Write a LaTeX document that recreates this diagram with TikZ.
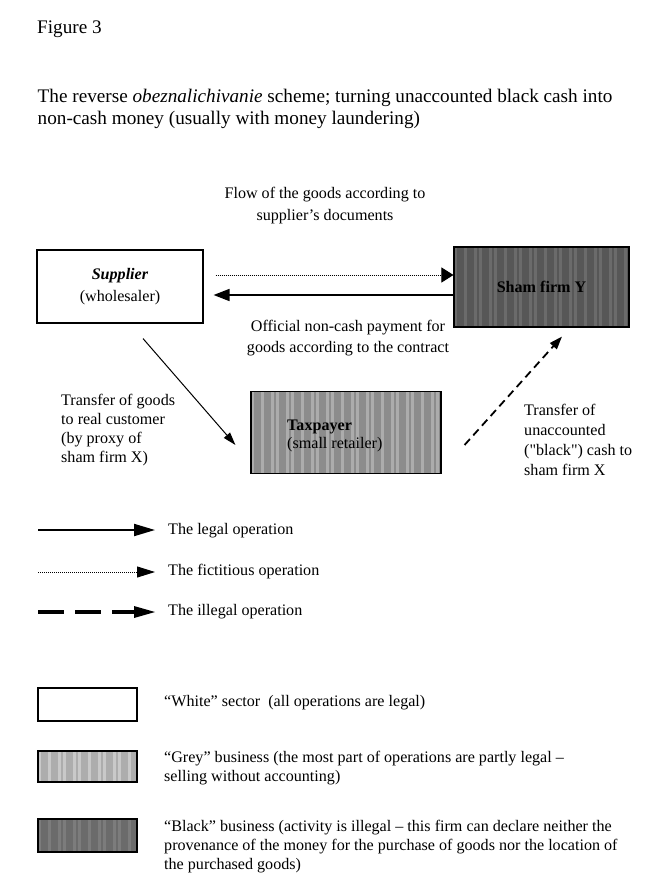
\documentclass[tikz,border=0pt]{standalone}
\usepackage{fontspec}
\setmainfont{Liberation Serif}
\usetikzlibrary{arrows.meta,calc}
\tikzset{
  lbl/.style={inner sep=0pt, align=left, font=\fontsize{16.1}{19}\selectfont},
  ttl/.style={inner sep=0pt, align=left, font=\fontsize{19.2}{22}\selectfont},
  firm/.style={draw, line width=1.1pt, inner sep=0pt, align=center, font=\fontsize{16.1}{22}\selectfont},
  stripes/.style 2 args={path picture={\foreach \i [evaluate=\i as \sx using {\i*8+mod(\i*7,5)}, evaluate=\i as \sy using {\i*8+mod(\i*7,5)+#1}] in {0,...,24}{\fill[white,opacity=#2] ([xshift=\sx pt]path picture bounding box.south west) rectangle ([xshift=\sy pt]path picture bounding box.north west);}}},
  whitefirm/.style={firm, fill=white},
  greyfirm/.style={firm, fill=black!45, stripes={3}{0.28}},
  blackfirm/.style={firm, fill=black!66, stripes={2.5}{0.12}},
  legal/.style={line width=1.7pt, -{Triangle[length=16pt,width=12pt]}},
  legalthin/.style={line width=1pt, -{Triangle[length=13pt,width=8pt]}},
  fict/.style={line width=1pt, dash pattern=on 1pt off 1pt, -{Triangle[length=12pt,width=15pt]}},
  illegal/.style={line width=1.8pt, dash pattern=on 8pt off 5pt, -{Triangle[length=13pt,width=9pt]}},
  leglegal/.style={line width=2pt, -{Triangle[length=21pt,width=12pt]}},
  legfict/.style={line width=1pt, dash pattern=on 1pt off 1pt, -{Triangle[length=18pt,width=11pt]}},
  legillegal/.style={line width=3.5pt, dash pattern=on 26pt off 11pt, -{Triangle[length=21pt,width=12pt,line width=0pt]}},
}
\begin{document}
\begin{tikzpicture}[x=1pt,y=-1pt]
\fill[white] (0,0) rectangle (662,873);
\useasboundingbox (0,0) rectangle (662,873);

% heading
\node[ttl, anchor=base west] (fig) at (37,33) {Figure 3};
\node[ttl, anchor=west] (title) at (37.5,108.5) {The reverse \textit{obeznalichivanie} scheme; turning unaccounted black cash into\\non-cash money (usually with money laundering)};

% firms
\node[whitefirm, minimum width=166pt, minimum height=73pt] (sup) at (120,286.5) {\textbf{\textit{Supplier}}\\(wholesaler)};
\node[blackfirm, minimum width=175pt, minimum height=80pt] (sham) at (541.5,287) {\textbf{Sham firm Y}};
\node[greyfirm, minimum width=190pt, minimum height=82pt] (tax) at (346,432.5) {};
\node[lbl, anchor=west, font=\fontsize{16.1}{18}\selectfont] (taxt) at (287,436) {\textbf{Taxpayer}\\(small retailer)};

% connector labels
\node[lbl, align=center, font=\fontsize{16.1}{22}\selectfont] (flow) at (325,206) {Flow of the goods according to\\supplier's documents};
\node[lbl, align=center, font=\fontsize{16.1}{21}\selectfont] (pay) at (348,338) {Official non-cash payment for\\goods according to the contract};
\node[lbl, anchor=west] (trg) at (61,430) {Transfer of goods\\to real customer\\(by proxy of\\sham firm X)};
\node[lbl, anchor=west, font=\fontsize{16.1}{20}\selectfont] (trc) at (524,440) {Transfer of\\unaccounted\\({\addfontfeature{Ligatures=TeXOff}"}black{\addfontfeature{Ligatures=TeXOff}"}) cash to\\sham firm X};

% connectors
\coordinate (d1) at ($(sup.east)+(12,-11.5)$);
\draw[fict] (d1) -- (d1 -| sham.west);
\coordinate (s1) at ($(sup.east)+(10,8.5)$);
\draw[legal] (s1 -| sham.west) -- (s1);
\coordinate (g1) at ($(sup.south)+(23,15)$);
\coordinate (g2) at ($(tax.west)+(-15,12.5)$);
\draw[legalthin] (g1) -- (g2);
\coordinate (h1) at ($(tax.east)+(23,12.5)$);
\coordinate (h2) at ($(sham.south)+(20.5,9)$);
\draw[illegal] (h1) -- (h2);

% legend: operations
\coordinate (la1) at (38,530);
\coordinate (la2) at (155,530);
\draw[leglegal] (la1) -- (la2);
\node[lbl, anchor=west] (lt1) at (168,531) {The legal operation};
\coordinate (lb1) at (38,572);
\coordinate (lb2) at (155,572);
\draw[legfict] (lb1) -- (lb2);
\node[lbl, anchor=west] (lt2) at (168,572) {The fictitious operation};
\coordinate (lc1) at (38,612);
\coordinate (lc2) at (155,612);
\draw[legillegal] (lc1) -- (lc2);
\node[lbl, anchor=west] (lt3) at (168,612) {The illegal operation};

% legend: sectors
\node[whitefirm, minimum width=99pt, minimum height=33pt] (kw) at (87.5,704.5) {};
\node[lbl, anchor=west] (kwt) at (164,703) {“White” sector~ (all operations are legal)};
\node[greyfirm, fill=black!32, stripes={3}{0.35}, minimum width=99pt, minimum height=31pt] (kg) at (87.5,766.5) {};
\node[lbl, anchor=west] (kgt) at (164,768) {“Grey” business (the most part of operations are partly legal –\\selling without accounting)};
\node[blackfirm, fill=black!58, minimum width=99pt, minimum height=33pt] (kb) at (87.5,835.5) {};
\node[lbl, anchor=west] (kbt) at (164,847) {“Black” business (activity is illegal – this firm can declare neither the\\provenance of the money for the purchase of goods nor the location of\\the purchased goods)};
\end{tikzpicture}
\end{document}
